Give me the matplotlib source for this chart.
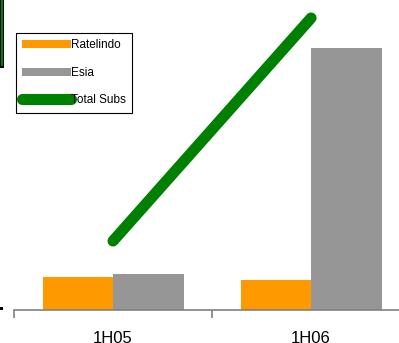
import matplotlib
matplotlib.use("Agg")
import matplotlib.pyplot as plt
import numpy as np
from matplotlib.patches import Rectangle

plt.rcParams["font.family"] = ["Liberation Sans", "DejaVu Sans"]

categories = ["1H05", "1H06"]
ratelindo = [33, 30]
esia = [36, 262]
total_subs = [69, 292]

W, H = 399, 343
fig = plt.figure(figsize=(W / 100, H / 100), dpi=100)
ax = fig.add_axes([14 / W, 33 / H, 385 / W, 310 / H])

x = np.arange(len(categories))
bw = 0.356
b1 = ax.bar(x - bw / 2, ratelindo, bw, color="#FF9900", label="Ratelindo")
b2 = ax.bar(x + bw / 2, esia, bw, color="#969696", label="Esia")
ln, = ax.plot(x, total_subs, color="#008000", lw=8, solid_capstyle="round", label="Total Subs")

ax.set_xlim(-0.5, 1.444)
ax.set_ylim(0, 310)
for s in ["top", "right", "left"]:
    ax.spines[s].set_visible(False)
ax.spines["bottom"].set_color("#808080")
ax.spines["bottom"].set_linewidth(1.2)
ax.set_yticks([])
ax.set_xticks([-0.5, 0.5], minor=False)
ax.set_xticks(x, minor=True)
ax.set_xticklabels(categories, minor=True, fontsize=12)
ax.set_xticklabels([], minor=False)
ax.tick_params(axis="x", which="major", length=6, color="#808080", width=1.2)
ax.tick_params(axis="x", which="minor", length=0, pad=15)

leg = ax.legend([b1, b2, ln], ["Ratelindo", "Esia", "Total Subs"],
                loc="upper left", bbox_to_anchor=(2 / 385, 277 / 310), fontsize=8.5,
                frameon=True, fancybox=False, edgecolor="black", framealpha=1,
                handlelength=4.1, handletextpad=0.0, labelspacing=1.3,
                borderpad=0.55, borderaxespad=0)
leg.get_frame().set_linewidth(0.8)

# cropped remnants at the left edge
fig.add_artist(Rectangle((0, 1 - 68 / H), 4 / W, 68 / H, transform=fig.transFigure,
                         color="black", lw=0))
fig.add_artist(Rectangle((1 / W, 1 - 66 / H), 1.5 / W, 66 / H, transform=fig.transFigure,
                         color="#008000", lw=0))
fig.add_artist(Rectangle((0, 33 / H), 3 / W, 3 / H, transform=fig.transFigure,
                         color="black", lw=0))

fig.savefig("out.png", dpi=100)
